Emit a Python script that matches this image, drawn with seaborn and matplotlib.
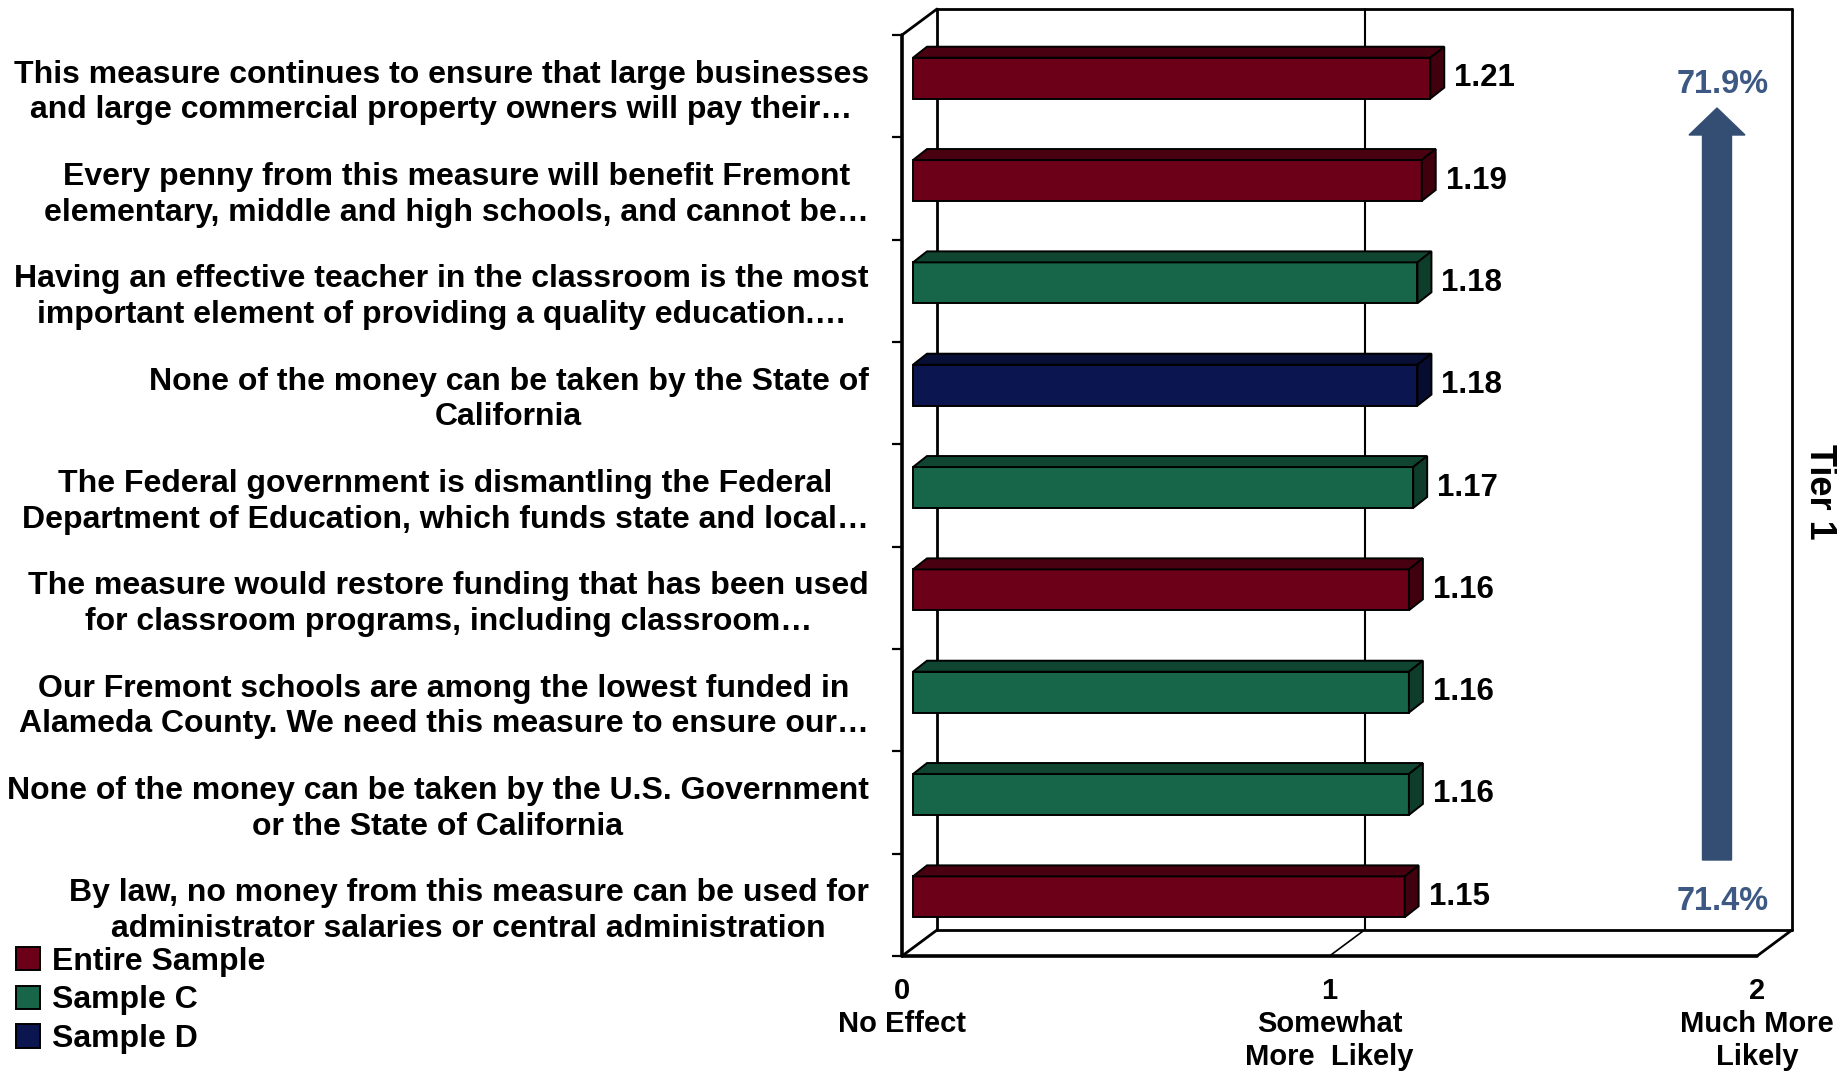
import matplotlib
matplotlib.use("Agg")
import matplotlib.pyplot as plt
import matplotlib.colors as mcolors
from matplotlib.patches import Polygon, Patch, FancyArrow
from matplotlib.lines import Line2D
import seaborn as sns
import pandas as pd

# ---------------- data ----------------
labels = [
    "This measure continues to ensure that large businesses\nand large commercial property owners will pay their…",
    "Every penny from this measure will benefit Fremont\nelementary, middle and high schools, and cannot be…",
    "Having an effective teacher in the classroom is the most\nimportant element of providing a quality education.…",
    "None of the money can be taken by the State of\nCalifornia",
    "The Federal government is dismantling the Federal\nDepartment of Education, which funds state and local…",
    "The measure would restore funding that has been used\nfor classroom programs, including classroom…",
    "Our Fremont schools are among the lowest funded in\nAlameda County. We need this measure to ensure our…",
    "None of the money can be taken by the U.S. Government\nor the State of California",
    "By law, no money from this measure can be used for\nadministrator salaries or central administration",
]
values = [1.21, 1.19, 1.18, 1.18, 1.17, 1.16, 1.16, 1.16, 1.15]
groups = ["Entire Sample", "Entire Sample", "Sample C", "Sample D", "Sample C",
          "Entire Sample", "Sample C", "Sample C", "Entire Sample"]
group_order = ["Entire Sample", "Sample C", "Sample D"]
group_colors = {"Entire Sample": "#6B0018", "Sample C": "#17664A", "Sample D": "#0B1650"}
xtick_vals = [0, 1, 2]
xtick_labels = ["0\nNo Effect", "1\nSomewhat\nMore  Likely", "2\nMuch More\nLikely"]
tier_label = "Tier 1"
pct_top = "71.9%"
pct_bottom = "71.4%"

df = pd.DataFrame({"label": labels, "value": values, "group": groups})

# ---------------- style ----------------
sns.set_style("white")
plt.rcParams["font.family"] = ["Liberation Sans", "DejaVu Sans"]
plt.rcParams["font.weight"] = "bold"
for k in ["text.color", "axes.labelcolor", "xtick.color", "ytick.color"]:
    plt.rcParams[k] = "black"

W, H = 1837, 1072
fig = plt.figure(figsize=(W / 100, H / 100), dpi=100)
# front plane of the chart in pixels
fx0, fx1, fy0, fy1 = 902, 1757, 35, 956
ax = fig.add_axes([fx0 / W, 1 - fy1 / H, (fx1 - fx0) / W, (fy1 - fy0) / H])

sns.barplot(data=df, x="value", y="label", hue="group", hue_order=group_order,
            palette=group_colors, saturation=1, dodge=False, width=0.4, ax=ax,
            legend=False, edgecolor="black", linewidth=1.4, zorder=3)

ax.set_xlim(0, 2)
ax.set_ylim(len(labels) - 0.5, -0.5)

ppx = (fx1 - fx0) / 2.0           # pixels per x unit
ppy = (fy1 - fy0) / len(labels)   # pixels per category

# 3D depth of the whole box and of the bars (in data units)
Dx, Dy = 35 / ppx, -26 / ppy
ofx, ofy = 11 / ppx, -8 / ppy
bdx, bdy = 14 / ppx, -11 / ppy

line_kw = dict(color="black", lw=2.0, clip_on=False, zorder=1)
ytop, ybot = -0.5, len(labels) - 0.5
# back wall
ax.add_line(Line2D([Dx, Dx], [ytop + Dy, ybot + Dy], **line_kw))
ax.add_line(Line2D([Dx, 2 + Dx], [ytop + Dy, ytop + Dy], **line_kw))
ax.add_line(Line2D([2 + Dx, 2 + Dx], [ytop + Dy, ybot + Dy], **line_kw))
ax.add_line(Line2D([Dx, 2 + Dx], [ybot + Dy, ybot + Dy], **line_kw))
# side connectors
ax.add_line(Line2D([0, Dx], [ytop, ytop + Dy], **line_kw))
ax.add_line(Line2D([0, Dx], [ybot, ybot + Dy], **line_kw))
ax.add_line(Line2D([2, 2 + Dx], [ybot, ybot + Dy], **line_kw))
ax.add_line(Line2D([0, 2], [ybot, ybot], color="black", lw=2.6, clip_on=False, zorder=1))
ax.add_line(Line2D([0, 0], [ytop, ybot], color="black", lw=2.6, clip_on=False, zorder=1))
# gridline at 1
ax.add_line(Line2D([1 + Dx, 1 + Dx], [ytop + Dy, ybot + Dy], color="black", lw=1.5, clip_on=False, zorder=1))
ax.add_line(Line2D([1, 1 + Dx], [ybot, ybot + Dy], color="black", lw=1.2, clip_on=False, zorder=1))

# bars to 3D
bars = [p for p in ax.patches]
for p in bars:
    w = p.get_width()
    if w <= 0:
        continue
    p.set_x(p.get_x() + ofx)
    p.set_y(p.get_y() + ofy)
    x0 = p.get_x(); x1 = x0 + w
    yt = p.get_y(); yb = yt + p.get_height()
    fc = mcolors.to_rgb(p.get_facecolor())
    top_c = tuple(c * 0.68 for c in fc)
    side_c = tuple(c * 0.6 for c in fc)
    ax.add_patch(Polygon([(x0, yt), (x0 + bdx, yt + bdy), (x1 + bdx, yt + bdy), (x1, yt)],
                         closed=True, facecolor=top_c, edgecolor="black", lw=1.4,
                         clip_on=False, zorder=3))
    ax.add_patch(Polygon([(x1, yt), (x1 + bdx, yt + bdy), (x1 + bdx, yb + bdy), (x1, yb)],
                         closed=True, facecolor=side_c, edgecolor="black", lw=1.4,
                         clip_on=False, zorder=3))
    ax.text(x1 + bdx + 10 / ppx, (yt + yb) / 2, f"{w:.2f}", ha="left", va="center",
            fontsize=22.5, fontweight="bold", color="black", zorder=4)

for s in ax.spines.values():
    s.set_visible(False)

ax.set_xlabel("")
ax.set_ylabel("")
ax.set_xticks(xtick_vals)
ax.set_xticklabels(xtick_labels, fontsize=21, fontweight="bold", linespacing=1.24)
ax.tick_params(axis="x", length=0, pad=15)
ax.set_yticks([i - 0.5 for i in range(len(labels) + 1)])
ax.set_yticklabels([""] * (len(labels) + 1))
ax.set_yticks(range(len(labels)), minor=True)
ax.set_yticklabels(labels, minor=True, fontsize=23, fontweight="bold", ha="right",
                   multialignment="center", linespacing=1.25)
ax.tick_params(axis="y", which="major", length=7, width=1.6, direction="out", left=True)
ax.tick_params(axis="y", which="minor", length=0, pad=24)

# legend
handles = [Patch(facecolor=group_colors[g], edgecolor="black", lw=1.4, label=g) for g in group_order]
fig.legend(handles=handles, loc="upper left", bbox_to_anchor=(0.002, 1 - 934 / H),
           frameon=False, handlelength=0.75, handleheight=0.75,
           handletextpad=0.35, labelspacing=0.27, borderaxespad=0,
           prop={"weight": "bold", "size": 23})

# arrow and percentages
arrow_color = "#344E73"
ax_x = 1717 / W
fig.add_artist(FancyArrow(ax_x, 1 - 860 / H, 0, (860 - 108) / H, width=29 / W,
                          head_width=56 / W, head_length=27 / H, length_includes_head=True,
                          color=arrow_color, transform=fig.transFigure))
fig.text(1723 / W, 1 - 84 / H, pct_top, ha="center", va="center", fontsize=23.5,
         fontweight="bold", color="#3C5883")
fig.text(1723 / W, 1 - 902 / H, pct_bottom, ha="center", va="center", fontsize=23.5,
         fontweight="bold", color="#3C5883")
fig.text(1819 / W, 1 - 492 / H, tier_label, ha="center", va="center", rotation=270,
         fontsize=26, fontweight="bold", color="black")

fig.savefig("out.png", dpi=100, facecolor="white")
